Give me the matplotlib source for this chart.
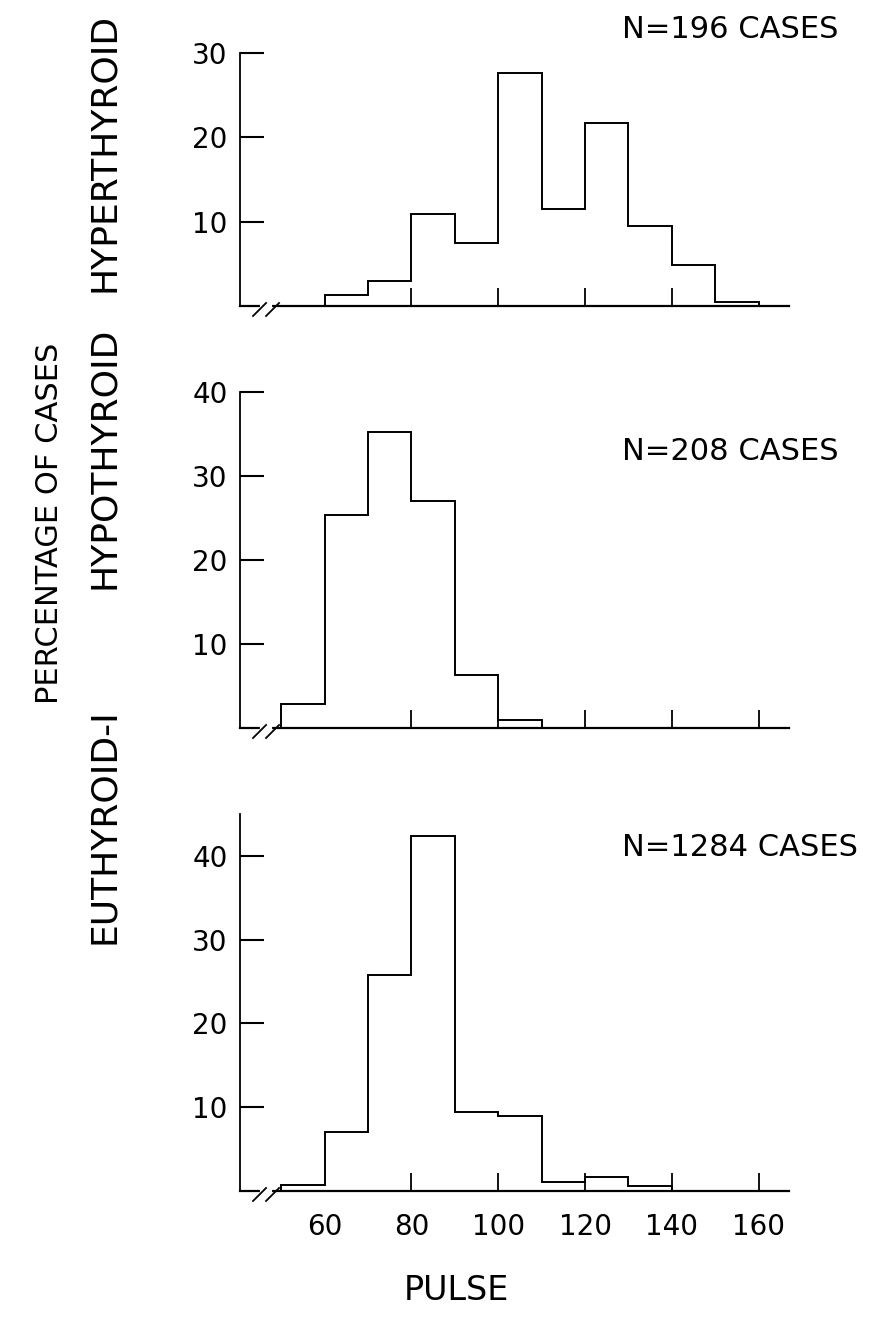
import numpy as np
import matplotlib.pyplot as plt

# histogram data (percent of cases per 10-beat pulse bin)
hyper_edges = [60, 70, 80, 90, 100, 110, 120, 130, 140, 150, 160]
hyper_vals = [1.3, 3.0, 10.9, 7.5, 27.6, 11.5, 21.7, 9.5, 4.9, 0.5]

hypo_edges = [50, 60, 70, 80, 90, 100, 110]
hypo_vals = [2.8, 25.4, 35.2, 27.0, 6.3, 1.0]

eu_edges = [50, 60, 70, 80, 90, 100, 110, 120, 130, 140]
eu_vals = [0.7, 7.0, 25.8, 42.4, 9.4, 9.0, 1.1, 1.7, 0.6]

groups = ['HYPERTHYROID', 'HYPOTHYROID', 'EUTHYROID-I']
n_labels = ['N=196 CASES', 'N=208 CASES', 'N=1284 CASES']
x_ticks = [60, 80, 100, 120, 140, 160]

W, H = 875, 1332
fig = plt.figure(figsize=(W / 100, H / 100), dpi=100)
plt.rcParams['font.family'] = ['DejaVu Sans']

# panels: (bottom px, top px, ymax, yticks, xticks)
panels = [
    (306, 53, 30, [10, 20, 30], [80, 100, 120, 140]),
    (728, 392, 40, [10, 20, 30, 40], [80, 100, 120, 140, 160]),
    (1191, 814, 45, [10, 20, 30, 40], [80, 100, 120, 140, 160]),
]
data = [(hyper_edges, hyper_vals), (hypo_edges, hypo_vals), (eu_edges, eu_vals)]
x_left, x_right = 240, 789

for i, (b, t, ymax, yt, xt) in enumerate(panels):
    ax = fig.add_axes([x_left / W, 1 - b / H, (x_right - x_left) / W, (b - t) / H])
    edges, vals = data[i]
    ax.stairs(vals, edges, baseline=0, color='k', lw=1.4)
    ax.set_xlim(40.5, 167)
    ax.set_ylim(0, ymax)
    ax.spines['top'].set_visible(False)
    ax.spines['right'].set_visible(False)
    ax.spines['left'].set_linewidth(1.3)
    ax.spines['bottom'].set_linewidth(1.6)
    ax.set_yticks(yt)
    ax.set_yticklabels([str(v) for v in yt], fontsize=20)
    ax.tick_params(axis='y', direction='in', length=17, width=1.5, pad=9)
    if i == 2:
        ax.set_xticks(x_ticks)
        ax.set_xticklabels([str(v) for v in x_ticks], fontsize=20)
        ax.tick_params(axis='x', direction='in', length=13, width=1.3, pad=16)
        # no tick mark at 60, only the label
        ax.xaxis.get_major_ticks()[0].tick1line.set_visible(False)
    else:
        ax.set_xticks(xt)
        ax.set_xticklabels([])
        ax.tick_params(axis='x', direction='in', length=13, width=1.3)
    # axis break marks
    k = ymax / (b - t)  # units per pixel
    ax.plot([45.5, 47.5], [0, 0], color='white', lw=3, clip_on=False, zorder=3)
    for x0 in (43.5, 46.5):
        ax.plot([x0, x0 + 3], [-10 * k, 3 * k], color='k', lw=1.3, clip_on=False, zorder=4)

# panel annotations
n_y = [30, 452, 848]
for lab, y in zip(n_labels, n_y):
    fig.text(622 / W, 1 - y / H, lab, fontsize=22, ha='left', va='center')

grp_y = [152, 458, 826]
for lab, y in zip(groups, grp_y):
    fig.text(104 / W, 1 - y / H, lab, fontsize=26, rotation=90, ha='center', va='center')

fig.text(50 / W, 1 - 523 / H, 'PERCENTAGE OF CASES', fontsize=22, rotation=90,
         ha='center', va='center')
fig.text(456 / W, 1 - 1290 / H, 'PULSE', fontsize=24, ha='center', va='center')

plt.savefig('out.png', dpi=100)
